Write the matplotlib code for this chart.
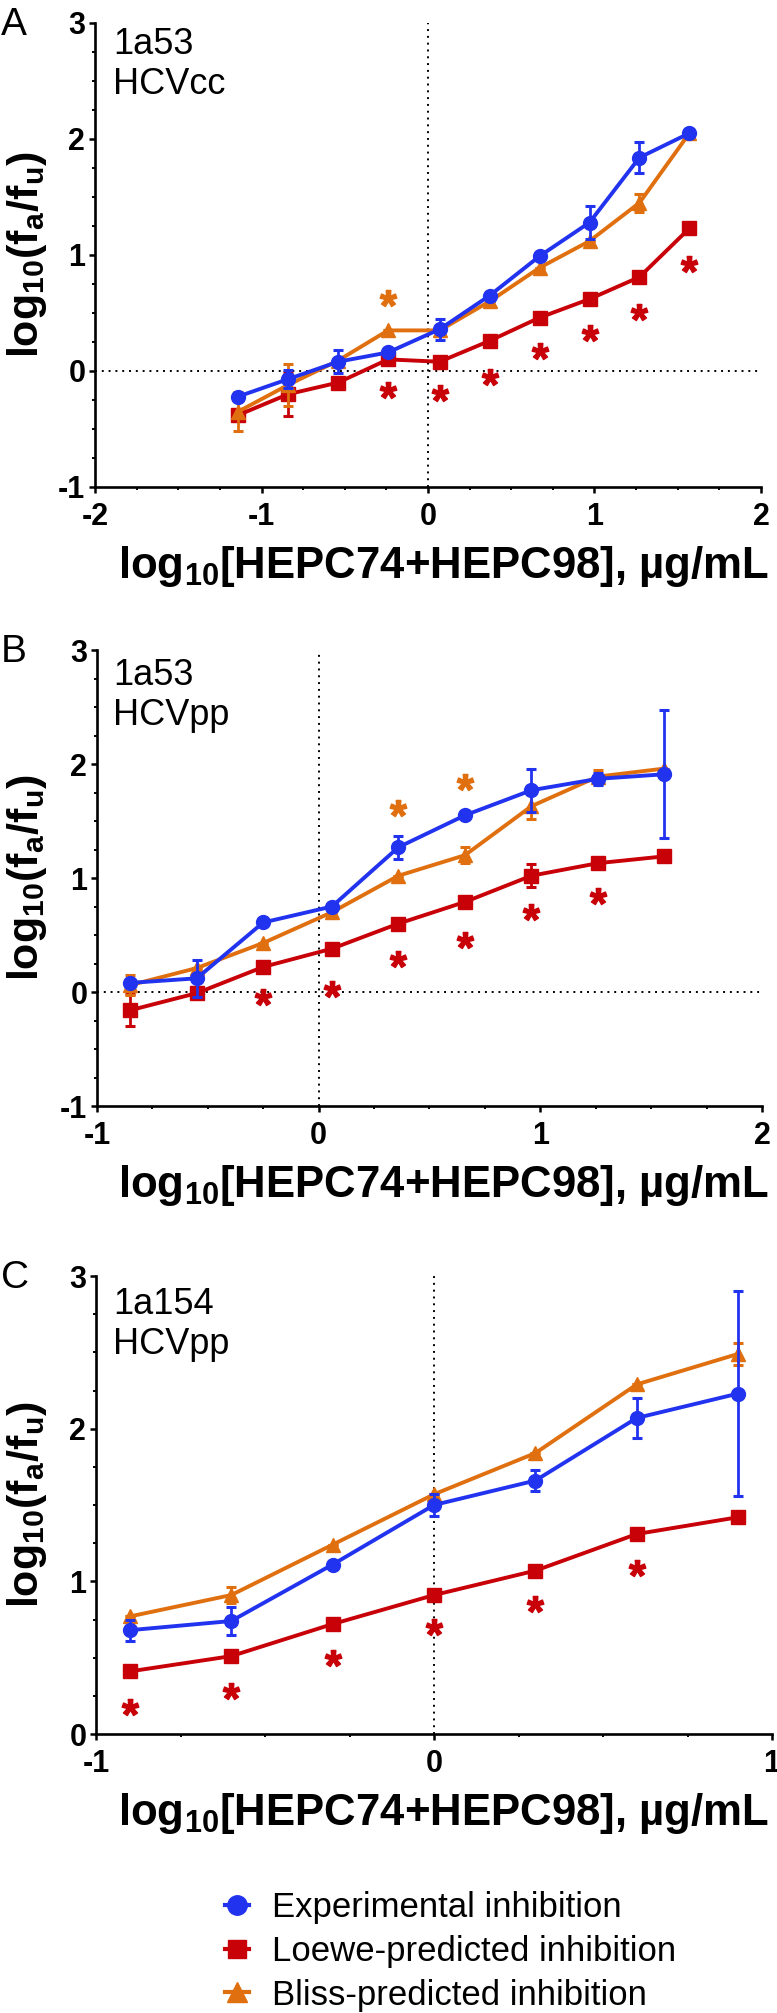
import matplotlib
matplotlib.use('Agg')
import matplotlib.pyplot as plt
from matplotlib.lines import Line2D
from matplotlib.ticker import MultipleLocator

# panel A: 1a53 HCVcc
xa = [-1.14, -0.84, -0.54, -0.24, 0.07, 0.37, 0.67, 0.97, 1.27, 1.57]
exp_a = [-0.22, -0.07, 0.08, 0.16, 0.36, 0.65, 0.99, 1.28, 1.84, 2.05]
exp_a_err = [0.0, 0.08, 0.10, 0.0, 0.09, 0.0, 0.0, 0.14, 0.13, 0.0]
loewe_a = [-0.38, -0.20, -0.10, 0.10, 0.08, 0.26, 0.46, 0.62, 0.81, 1.23]
loewe_a_err = [0.0, 0.19, 0.0, 0.0, 0.0, 0.0, 0.0, 0.0, 0.0, 0.0]
bliss_a = [-0.35, -0.12, 0.09, 0.35, 0.35, 0.60, 0.89, 1.12, 1.45, 2.05]
bliss_a_err = [0.17, 0.18, 0.0, 0.0, 0.0, 0.0, 0.0, 0.0, 0.08, 0.0]
star_bliss_a_x = [-0.24]
star_bliss_a_y = [0.63]
star_loewe_a_x = [-0.24, 0.07, 0.37, 0.67, 0.97, 1.27, 1.57]
star_loewe_a_y = [-0.16, -0.19, -0.05, 0.17, 0.33, 0.51, 0.92]

# panel B: 1a53 HCVpp
xb = [-0.85, -0.55, -0.25, 0.06, 0.36, 0.66, 0.96, 1.26, 1.56]
exp_b = [0.08, 0.12, 0.61, 0.75, 1.27, 1.55, 1.77, 1.87, 1.91]
exp_b_err = [0.0, 0.16, 0.0, 0.0, 0.10, 0.0, 0.19, 0.05, 0.56]
loewe_b = [-0.16, -0.01, 0.22, 0.38, 0.60, 0.79, 1.02, 1.13, 1.19]
loewe_b_err = [0.14, 0.0, 0.0, 0.0, 0.0, 0.0, 0.10, 0.0, 0.0]
bliss_b = [0.06, 0.21, 0.43, 0.70, 1.02, 1.20, 1.63, 1.89, 1.96]
bliss_b_err = [0.09, 0.0, 0.0, 0.0, 0.0, 0.07, 0.11, 0.06, 0.0]
star_bliss_b_x = [0.36, 0.66]
star_bliss_b_y = [1.61, 1.84]
star_loewe_b_x = [-0.25, 0.06, 0.36, 0.66, 0.96, 1.26]
star_loewe_b_y = [-0.04, 0.03, 0.29, 0.46, 0.70, 0.84]

# panel C: 1a154 HCVpp
xc = [-0.9, -0.6, -0.3, 0.0, 0.3, 0.6, 0.9]
exp_c = [0.68, 0.74, 1.11, 1.50, 1.66, 2.07, 2.23]
exp_c_err = [0.07, 0.09, 0.0, 0.07, 0.07, 0.13, 0.67]
loewe_c = [0.41, 0.51, 0.72, 0.91, 1.07, 1.31, 1.42]
loewe_c_err = [0.0, 0.0, 0.0, 0.0, 0.0, 0.0, 0.0]
bliss_c = [0.77, 0.91, 1.24, 1.57, 1.84, 2.29, 2.49]
bliss_c_err = [0.0, 0.05, 0.0, 0.0, 0.0, 0.0, 0.07]
star_loewe_c_x = [-0.9, -0.6, -0.3, 0.0, 0.3, 0.6]
star_loewe_c_y = [0.18, 0.28, 0.50, 0.70, 0.85, 1.09]

legend_labels = ['Experimental inhibition', 'Loewe-predicted inhibition',
                 'Bliss-predicted inhibition']

BLUE = '#2233f0'
RED = '#c80008'
ORANGE = '#e0700f'

plt.rcParams['font.family'] = ['Liberation Sans', 'DejaVu Sans']
plt.rcParams['axes.unicode_minus'] = False
plt.rcParams['mathtext.fontset'] = 'custom'
plt.rcParams['mathtext.rm'] = 'Liberation Sans'
plt.rcParams['mathtext.bf'] = 'Liberation Sans:bold'
plt.rcParams['mathtext.it'] = 'Liberation Sans:italic'

W, H = 777, 2013
fig = plt.figure(figsize=(W / 100, H / 100), dpi=100)


def add_px_axes(left, top, right, bottom):
    return fig.add_axes([left / W, 1 - bottom / H, (right - left) / W, (bottom - top) / H])


def draw_panel(ax, x, series, xlim, ylim, xticks, yticks, zero_line=True):
    for y, err, col, mk, ms, z in series:
        ax.errorbar(x, y, yerr=err, fmt='none', ecolor=col, elinewidth=2.0,
                    capsize=3.6, capthick=2.2, zorder=z)
        ax.plot(x, y, color=col, marker=mk, ms=ms, lw=2.8, zorder=z + 0.5)
    ax.axvline(0, color='black', ls=(0, (1, 2.5)), lw=1.4, zorder=1)
    if zero_line:
        ax.axhline(0, color='black', ls=(0, (1, 2.5)), lw=1.4, zorder=1)
    ax.set_xlim(*xlim)
    ax.set_ylim(*ylim)
    ax.set_xticks(xticks, labels=[str(t) for t in xticks], fontsize=22, fontweight='bold')
    ax.set_yticks(yticks, labels=[str(t) for t in yticks], fontsize=22, fontweight='bold')
    ax.xaxis.set_minor_locator(MultipleLocator(0.25))
    ax.yaxis.set_minor_locator(MultipleLocator(0.25))
    for s in ['top', 'right']:
        ax.spines[s].set_visible(False)
    for s in ['left', 'bottom']:
        ax.spines[s].set_linewidth(1.9)
    ax.tick_params(which='major', direction='out', length=4.5, width=1.8)
    ax.tick_params(which='minor', direction='out', length=2.5, width=1.4)
    ax.tick_params(axis='x', which='major', pad=6.5)
    ax.tick_params(axis='y', which='major', pad=2.5)


def stars(ax, sx, sy, col):
    ax.plot(sx, sy, ls='none', marker=r'$\mathbf{*}$', ms=12, color=col, zorder=6)


ylabel = r'log$_{\mathbf{10}}$(f$_{\mathbf{a}}$/f$_{\mathbf{u}}$)'
xlabel = r'log$_{\mathbf{10}}$[HEPC74+HEPC98], µg/mL'

panels = [
    ('A', (95, 23, 761, 487), xa, [(loewe_a, loewe_a_err, RED, 's', 9.5, 2),
                                  (bliss_a, bliss_a_err, ORANGE, '^', 10, 3),
                                  (exp_a, exp_a_err, BLUE, 'o', 10, 4)],
     (-2, 2), (-1, 3), [-2, -1, 0, 1, 2], [-1, 0, 1, 2, 3], '1a53\nHCVcc', 27),
    ('B', (97, 650, 762, 1106), xb, [(loewe_b, loewe_b_err, RED, 's', 9.5, 2),
                                    (bliss_b, bliss_b_err, ORANGE, '^', 10, 3),
                                    (exp_b, exp_b_err, BLUE, 'o', 10, 4)],
     (-1, 2), (-1, 3), [-1, 0, 1, 2], [-1, 0, 1, 2, 3], '1a53\nHCVpp', 658),
    ('C', (96, 1276, 772, 1734), xc, [(loewe_c, loewe_c_err, RED, 's', 9.5, 2),
                                     (bliss_c, bliss_c_err, ORANGE, '^', 10, 3),
                                     (exp_c, exp_c_err, BLUE, 'o', 10, 4)],
     (-1, 1), (0, 3), [-1, 0, 1], [0, 1, 2, 3], '1a154\nHCVpp', 1287),
]

axes = []
for letter, box, x, series, xlim, ylim, xt, yt, note, note_top in panels:
    ax = add_px_axes(*box)
    draw_panel(ax, x, series, xlim, ylim, xt, yt, zero_line=(ylim[0] < 0))
    left, top, right, bottom = box
    fig.text(1 / W, 1 - (top - 16) / H, letter, fontsize=28, va='top', ha='left')
    fig.text(113 / W, 1 - note_top / H, note, fontsize=26, va='top', ha='left',
             linespacing=1.2)
    fig.text(27 / W, 1 - (top + bottom) / 2 / H, ylabel, rotation=90, fontsize=31,
             fontweight='bold', ha='center', va='center')
    fig.text(444 / W, 1 - (bottom + 91) / H, xlabel, fontsize=31.5,
             fontweight='bold', ha='center', va='baseline')
    axes.append(ax)

stars(axes[0], star_bliss_a_x, star_bliss_a_y, ORANGE)
stars(axes[0], star_loewe_a_x, star_loewe_a_y, RED)
stars(axes[1], star_bliss_b_x, star_bliss_b_y, ORANGE)
stars(axes[1], star_loewe_b_x, star_loewe_b_y, RED)
stars(axes[2], star_loewe_c_x, star_loewe_c_y, RED)

# legend drawn by hand so the rows sit where they do in the figure
leg_styles = [(BLUE, 'o', 14), (RED, 's', 13), (ORANGE, '^', 14)]
for i, (lab, (col, mk, ms)) in enumerate(zip(legend_labels, leg_styles)):
    yc = 1905 + 43.5 * i
    fy = 1 - yc / H
    fig.add_artist(Line2D([225 / W, 237 / W, 249 / W], [fy, fy, fy],
                          transform=fig.transFigure, color=col, lw=3,
                          marker=mk, ms=ms, markevery=[1]))
    fig.text(272 / W, 1 - (yc + 12.5) / H, lab, fontsize=25, va='baseline', ha='left')

fig.savefig('out.png', dpi=100)
